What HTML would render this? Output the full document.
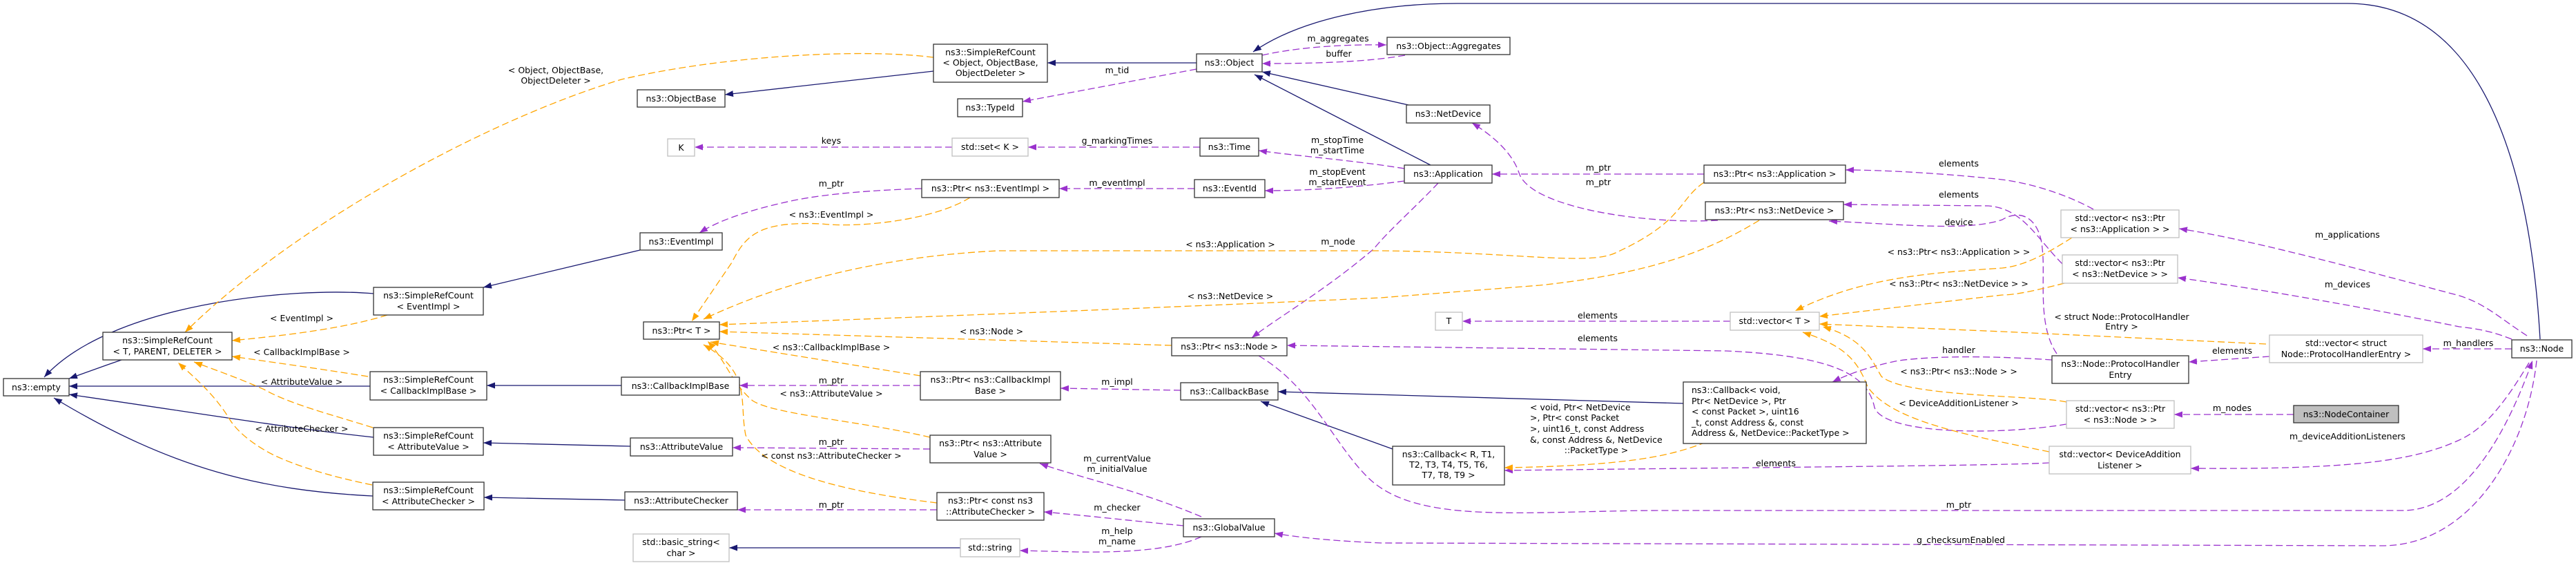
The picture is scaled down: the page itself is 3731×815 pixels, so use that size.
<!DOCTYPE html>
<html><head><meta charset="utf-8"><style>
html,body{margin:0;padding:0;background:#fff;}
svg{display:block;}
text{font-family:"DejaVu Sans","Liberation Sans",sans-serif;font-size:12.5px;fill:#000;}
.n{fill:#fff;stroke:#333;stroke-width:1.3;}
.g{fill:#fff;stroke:#bfbfbf;stroke-width:1.3;}
.nv{fill:none;stroke:#191970;stroke-width:1.3;marker-end:url(#mn);}
.pp{fill:none;stroke:#9a32cd;stroke-width:1.3;stroke-dasharray:10,5;marker-end:url(#mp);}
.or{fill:none;stroke:#ffa500;stroke-width:1.3;stroke-dasharray:10,5;marker-end:url(#mo);}
</style></head><body>
<svg width="3731" height="815" viewBox="0 0 3731 815" xmlns="http://www.w3.org/2000/svg">
<defs>
<marker id="mn" markerUnits="userSpaceOnUse" markerWidth="12" markerHeight="9" refX="12" refY="4.5" orient="auto"><path d="M0,0 L12,4.5 L0,9 z" fill="#191970"/></marker>
<marker id="mp" markerUnits="userSpaceOnUse" markerWidth="12" markerHeight="9" refX="12" refY="4.5" orient="auto"><path d="M0,0 L12,4.5 L0,9 z" fill="#9a32cd"/></marker>
<marker id="mo" markerUnits="userSpaceOnUse" markerWidth="12" markerHeight="9" refX="12" refY="4.5" orient="auto"><path d="M0,0 L12,4.5 L0,9 z" fill="#ffa500"/></marker>
</defs>

<!-- navy edges -->
<path class="nv" d="M176 521 C150 530 122 540 100 548"/>
<path class="nv" d="M541 425 C420 415 160 440 64 546"/>
<path class="nv" d="M536 559 L100 559"/>
<path class="nv" d="M541 633 C420 620 300 600 100 571"/>
<path class="nv" d="M540 718 C380 710 250 680 78 576"/>
<path class="nv" d="M927 362 L700 416"/>
<path class="nv" d="M900 558 L705 558"/>
<path class="nv" d="M913 646 L700 641"/>
<path class="nv" d="M905 724 L701 720"/>
<path class="nv" d="M1352 103 L1050 137"/>
<path class="nv" d="M1733 91 L1517 91"/>
<path class="nv" d="M1391 793 L1056 793"/>
<path class="nv" d="M2040 152 L1828 104"/>
<path class="nv" d="M2072 239 L1817 108"/>
<path class="nv" d="M3679 491 C3665 250 3600 5 3400 5 L2110 5 C1990 5 1880 30 1815 75"/>
<path class="nv" d="M2438 584 L1851 567"/>
<path class="nv" d="M2017 650 L1826 581"/>

<!-- purple edges -->
<path class="pp" d="M1828 80 C1880 68 1950 64 2008 65"/>
<path class="pp" d="M2035 80 C1980 90 1900 92 1828 92"/>
<path class="pp" d="M1733 100 L1481 147"/>
<path class="pp" d="M1379 213 L1006 213"/>
<path class="pp" d="M1738 213 L1489 213"/>
<path class="pp" d="M2034 244 C1960 232 1880 226 1823 218"/>
<path class="pp" d="M2034 262 C1960 272 1890 276 1832 276"/>
<path class="pp" d="M1730 273 L1534 273"/>
<path class="pp" d="M1335 273 C1270 275 1200 280 1150 290 C1080 305 1040 320 1013 337"/>
<path class="pp" d="M2083 265 C2050 300 2010 335 1990 360 C1920 420 1850 460 1813 489"/>
<path class="pp" d="M2468 252 L2161 252"/>
<path class="pp" d="M2488 319 C2380 325 2215 300 2200 250 C2190 220 2160 195 2132 178"/>
<path class="pp" d="M3032 303 C3000 285 2940 262 2880 258 C2800 250 2720 246 2673 246"/>
<path class="pp" d="M2987 382 C2950 345 2930 302 2880 298 L2670 296"/>
<path class="pp" d="M2979 512 C2950 470 2963 400 2958 360 C2955 320 2930 300 2900 318 C2850 335 2760 325 2649 320"/>
<path class="pp" d="M2506 465 L2118 465"/>
<path class="pp" d="M2993 614 C2900 630 2730 630 2715 590 C2705 540 2650 515 2500 508 L1864 500"/>
<path class="pp" d="M2972 521 C2900 516 2810 514 2750 522 C2710 530 2680 540 2654 553"/>
<path class="pp" d="M3287 516 L3170 524"/>
<path class="pp" d="M3638 505 L3509 505"/>
<path class="pp" d="M3660 486 C3620 460 3600 440 3562 428 C3400 385 3250 345 3156 331"/>
<path class="pp" d="M3638 491 C3610 480 3590 476 3562 473 C3400 440 3250 415 3154 402"/>
<path class="pp" d="M3322 600 L3149 600"/>
<path class="pp" d="M3663 525 C3630 580 3600 620 3562 637 C3500 665 3420 680 3173 678"/>
<path class="pp" d="M1823 515 C1900 560 1930 640 1980 690 C2050 760 2200 740 2400 739 L3480 739 C3580 739 3640 600 3668 522"/>
<path class="pp" d="M3674 522 C3660 650 3580 790 3450 790 L2000 786 C1930 783 1880 778 1846 772"/>
<path class="pp" d="M2968 670 C2900 674 2600 676 2179 681"/>
<path class="pp" d="M1710 565 L1536 562"/>
<path class="pp" d="M1333 558 L1071 558"/>
<path class="pp" d="M1347 650 L1061 648"/>
<path class="pp" d="M1740 748 C1650 710 1560 690 1506 671"/>
<path class="pp" d="M1357 738 L1068 738"/>
<path class="pp" d="M1714 761 C1650 755 1580 747 1512 741"/>
<path class="pp" d="M1740 777 C1700 795 1640 800 1560 799 L1477 797"/>

<!-- orange edges -->
<path class="or" d="M561 456 C500 475 420 485 336 493"/>
<path class="or" d="M533 545 C470 535 400 525 336 516"/>
<path class="or" d="M540 619 C480 600 420 585 383 564 C340 545 310 535 281 524"/>
<path class="or" d="M539 702 C480 690 430 675 395 658 C360 640 340 620 332 606 C310 570 280 545 258 525"/>
<path class="or" d="M1352 83 C1250 70 1050 80 900 115 C700 175 420 330 268 481"/>
<path class="or" d="M1405 286 C1350 320 1240 330 1190 324 C1100 320 1080 340 1060 380 L1002 465"/>
<path class="or" d="M2468 264 C2430 290 2440 320 2340 366 C2300 385 2200 365 2000 363 L1446 363 C1300 370 1150 400 1019 462"/>
<path class="or" d="M2548 319 C2480 360 2400 395 2230 413 L2000 431 C1700 445 1300 460 1042 470"/>
<path class="or" d="M1697 500 L1042 480"/>
<path class="or" d="M1333 544 L1029 495"/>
<path class="or" d="M1347 633 C1250 610 1120 600 1090 580 C1060 555 1050 520 1025 494"/>
<path class="or" d="M1357 728 C1250 715 1110 690 1080 630 C1070 580 1090 540 1019 499"/>
<path class="or" d="M3001 344 C2960 370 2930 385 2900 388 C2800 395 2700 400 2600 450"/>
<path class="or" d="M2990 410 C2950 420 2920 427 2900 427 L2635 458"/>
<path class="or" d="M3282 498 L2900 480 L2635 469"/>
<path class="or" d="M2993 582 C2950 572 2760 575 2725 545 C2710 520 2700 490 2640 473"/>
<path class="or" d="M2968 654 C2850 630 2740 610 2705 560 C2690 520 2670 500 2611 481"/>
<path class="or" d="M2471 640 C2420 660 2360 674 2179 677"/>

<!-- nodes -->
<rect class="n" x="5" y="548" width="95" height="25"/><text x="52.5" y="565" text-anchor="middle">ns3::empty</text>
<rect class="n" x="149" y="481" width="187" height="40"/><text x="242.5" y="497" text-anchor="middle">ns3::SimpleRefCount</text><text x="242.5" y="513" text-anchor="middle">&lt; T, PARENT, DELETER &gt;</text>
<rect class="n" x="541" y="416" width="159" height="40"/><text x="620.5" y="432" text-anchor="middle">ns3::SimpleRefCount</text><text x="620.5" y="448" text-anchor="middle">&lt; EventImpl &gt;</text>
<rect class="n" x="536" y="538" width="169" height="41"/><text x="620.5" y="554" text-anchor="middle">ns3::SimpleRefCount</text><text x="620.5" y="570" text-anchor="middle">&lt; CallbackImplBase &gt;</text>
<rect class="n" x="541" y="619" width="159" height="40"/><text x="620.5" y="635" text-anchor="middle">ns3::SimpleRefCount</text><text x="620.5" y="651" text-anchor="middle">&lt; AttributeValue &gt;</text>
<rect class="n" x="540" y="698" width="161" height="40"/><text x="620.5" y="714" text-anchor="middle">ns3::SimpleRefCount</text><text x="620.5" y="730" text-anchor="middle">&lt; AttributeChecker &gt;</text>
<rect class="n" x="923" y="130" width="127" height="25"/><text x="986.5" y="147" text-anchor="middle">ns3::ObjectBase</text>
<rect class="g" x="967" y="201" width="39" height="25"/><text x="986.5" y="218" text-anchor="middle">K</text>
<rect class="n" x="927" y="337" width="119" height="25"/><text x="986.5" y="354" text-anchor="middle">ns3::EventImpl</text>
<rect class="n" x="932" y="466" width="110" height="25"/><text x="987" y="483" text-anchor="middle">ns3::Ptr&lt; T &gt;</text>
<rect class="n" x="900" y="546" width="171" height="26"/><text x="985.5" y="563" text-anchor="middle">ns3::CallbackImplBase</text>
<rect class="n" x="913" y="634" width="148" height="26"/><text x="987" y="651" text-anchor="middle">ns3::AttributeValue</text>
<rect class="n" x="905" y="712" width="163" height="26"/><text x="986.5" y="729" text-anchor="middle">ns3::AttributeChecker</text>
<rect class="g" x="917" y="773" width="139" height="40"/><text x="986.5" y="789" text-anchor="middle">std::basic_string&lt;</text><text x="986.5" y="805" text-anchor="middle">char &gt;</text>
<rect class="n" x="1352" y="64" width="165" height="55"/><text x="1434.5" y="80" text-anchor="middle">ns3::SimpleRefCount</text><text x="1434.5" y="95" text-anchor="middle">&lt; Object, ObjectBase,</text><text x="1434.5" y="110" text-anchor="middle">ObjectDeleter &gt;</text>
<rect class="n" x="1733" y="78" width="95" height="26"/><text x="1780.5" y="95" text-anchor="middle">ns3::Object</text>
<rect class="n" x="1387" y="143" width="94" height="26"/><text x="1434" y="160" text-anchor="middle">ns3::TypeId</text>
<rect class="g" x="1379" y="200" width="110" height="26"/><text x="1434" y="217" text-anchor="middle">std::set&lt; K &gt;</text>
<rect class="n" x="1738" y="200" width="85" height="26"/><text x="1780.5" y="217" text-anchor="middle">ns3::Time</text>
<rect class="n" x="1335" y="260" width="199" height="26"/><text x="1434.5" y="277" text-anchor="middle">ns3::Ptr&lt; ns3::EventImpl &gt;</text>
<rect class="n" x="1730" y="260" width="102" height="26"/><text x="1781" y="277" text-anchor="middle">ns3::EventId</text>
<rect class="n" x="1697" y="489" width="167" height="26"/><text x="1780.5" y="506" text-anchor="middle">ns3::Ptr&lt; ns3::Node &gt;</text>
<rect class="n" x="1333" y="538" width="203" height="41"/><text x="1434.5" y="554" text-anchor="middle">ns3::Ptr&lt; ns3::CallbackImpl</text><text x="1434.5" y="570" text-anchor="middle">Base &gt;</text>
<rect class="n" x="1710" y="554" width="141" height="25"/><text x="1780.5" y="571" text-anchor="middle">ns3::CallbackBase</text>
<rect class="n" x="1347" y="630" width="175" height="40"/><text x="1434.5" y="646" text-anchor="middle">ns3::Ptr&lt; ns3::Attribute</text><text x="1434.5" y="662" text-anchor="middle">Value &gt;</text>
<rect class="n" x="1357" y="713" width="155" height="40"/><text x="1434.5" y="729" text-anchor="middle">ns3::Ptr&lt; const ns3</text><text x="1434.5" y="745" text-anchor="middle">::AttributeChecker &gt;</text>
<rect class="n" x="1714" y="751" width="132" height="26"/><text x="1780" y="768" text-anchor="middle">ns3::GlobalValue</text>
<rect class="g" x="1391" y="780" width="86" height="26"/><text x="1434" y="797" text-anchor="middle">std::string</text>
<rect class="n" x="2009" y="54" width="178" height="25"/><text x="2098" y="71" text-anchor="middle">ns3::Object::Aggregates</text>
<rect class="n" x="2037" y="152" width="121" height="26"/><text x="2097.5" y="169" text-anchor="middle">ns3::NetDevice</text>
<rect class="n" x="2034" y="239" width="127" height="26"/><text x="2097.5" y="256" text-anchor="middle">ns3::Application</text>
<rect class="n" x="2468" y="239" width="205" height="26"/><text x="2570.5" y="256" text-anchor="middle">ns3::Ptr&lt; ns3::Application &gt;</text>
<rect class="n" x="2470" y="292" width="200" height="26"/><text x="2570" y="309" text-anchor="middle">ns3::Ptr&lt; ns3::NetDevice &gt;</text>
<rect class="g" x="2079" y="452" width="39" height="26"/><text x="2098.5" y="469" text-anchor="middle">T</text>
<rect class="g" x="2506" y="452" width="129" height="26"/><text x="2570.5" y="469" text-anchor="middle">std::vector&lt; T &gt;</text>
<rect class="n" x="2438" y="553" width="265" height="89"/>
<text x="2450" y="569">ns3::Callback&lt; void,</text><text x="2450" y="585"> Ptr&lt; NetDevice &gt;, Ptr</text><text x="2450" y="600">&lt; const Packet &gt;, uint16</text><text x="2450" y="616">_t, const Address &amp;, const</text><text x="2450" y="631"> Address &amp;, NetDevice::PacketType &gt;</text>
<rect class="n" x="2017" y="646" width="162" height="56"/><text x="2098" y="662" text-anchor="middle">ns3::Callback&lt; R, T1,</text><text x="2098" y="677" text-anchor="middle">T2, T3, T4, T5, T6,</text><text x="2098" y="692" text-anchor="middle">T7, T8, T9 &gt;</text>
<rect class="g" x="2985" y="304" width="171" height="40"/><text x="3070.5" y="320" text-anchor="middle">std::vector&lt; ns3::Ptr</text><text x="3070.5" y="336" text-anchor="middle">&lt; ns3::Application &gt; &gt;</text>
<rect class="g" x="2987" y="369" width="167" height="41"/><text x="3070.5" y="385" text-anchor="middle">std::vector&lt; ns3::Ptr</text><text x="3070.5" y="401" text-anchor="middle">&lt; ns3::NetDevice &gt; &gt;</text>
<rect class="g" x="3287" y="485" width="222" height="40"/><text x="3398" y="501" text-anchor="middle">std::vector&lt; struct</text><text x="3398" y="517" text-anchor="middle">Node::ProtocolHandlerEntry &gt;</text>
<rect class="n" x="3638" y="492" width="87" height="26"/><text x="3681.5" y="509" text-anchor="middle">ns3::Node</text>
<rect class="n" x="2972" y="515" width="198" height="40"/><text x="3071" y="531" text-anchor="middle">ns3::Node::ProtocolHandler</text><text x="3071" y="547" text-anchor="middle">Entry</text>
<rect class="g" x="2993" y="580" width="156" height="40"/><text x="3071" y="596" text-anchor="middle">std::vector&lt; ns3::Ptr</text><text x="3071" y="612" text-anchor="middle">&lt; ns3::Node &gt; &gt;</text>
<rect x="3322" y="587" width="152" height="25" fill="#bfbfbf" stroke="#333" stroke-width="1.3"/><text x="3398" y="604" text-anchor="middle">ns3::NodeContainer</text>
<rect class="g" x="2968" y="646" width="205" height="40"/><text x="3070.5" y="662" text-anchor="middle">std::vector&lt; DeviceAddition</text><text x="3070.5" y="678" text-anchor="middle">Listener &gt;</text>

<!-- labels -->
<text x="805" y="106" text-anchor="middle">&lt; Object, ObjectBase,</text><text x="805" y="121" text-anchor="middle">ObjectDeleter &gt;</text>
<text x="437" y="465" text-anchor="middle">&lt; EventImpl &gt;</text>
<text x="437" y="514" text-anchor="middle">&lt; CallbackImplBase &gt;</text>
<text x="437" y="557" text-anchor="middle">&lt; AttributeValue &gt;</text>
<text x="437" y="625" text-anchor="middle">&lt; AttributeChecker &gt;</text>
<text x="1938" y="60" text-anchor="middle">m_aggregates</text>
<text x="1939" y="82" text-anchor="middle">buffer</text>
<text x="1618" y="106" text-anchor="middle">m_tid</text>
<text x="1204" y="208" text-anchor="middle">keys</text>
<text x="1618" y="208" text-anchor="middle">g_markingTimes</text>
<text x="1937" y="207" text-anchor="middle">m_stopTime</text><text x="1937" y="222" text-anchor="middle">m_startTime</text>
<text x="1937" y="253" text-anchor="middle">m_stopEvent</text><text x="1937" y="268" text-anchor="middle">m_startEvent</text>
<text x="1204" y="270" text-anchor="middle">m_ptr</text>
<text x="1618" y="269" text-anchor="middle">m_eventImpl</text>
<text x="1204" y="315" text-anchor="middle">&lt; ns3::EventImpl &gt;</text>
<text x="1782" y="358" text-anchor="middle">&lt; ns3::Application &gt;</text>
<text x="1938" y="354" text-anchor="middle">m_node</text>
<text x="1782" y="433" text-anchor="middle">&lt; ns3::NetDevice &gt;</text>
<text x="1436" y="484" text-anchor="middle">&lt; ns3::Node &gt;</text>
<text x="1204" y="507" text-anchor="middle">&lt; ns3::CallbackImplBase &gt;</text>
<text x="1204" y="555" text-anchor="middle">m_ptr</text>
<text x="1204" y="574" text-anchor="middle">&lt; ns3::AttributeValue &gt;</text>
<text x="1618" y="557" text-anchor="middle">m_impl</text>
<text x="1204" y="644" text-anchor="middle">m_ptr</text>
<text x="1204" y="664" text-anchor="middle">&lt; const ns3::AttributeChecker &gt;</text>
<text x="1618" y="668" text-anchor="middle">m_currentValue</text><text x="1618" y="683" text-anchor="middle">m_initialValue</text>
<text x="1204" y="735" text-anchor="middle">m_ptr</text>
<text x="1618" y="739" text-anchor="middle">m_checker</text>
<text x="1618" y="773" text-anchor="middle">m_help</text><text x="1618" y="788" text-anchor="middle">m_name</text>
<text x="2315" y="247" text-anchor="middle">m_ptr</text><text x="2315" y="268" text-anchor="middle">m_ptr</text>
<text x="2837" y="241" text-anchor="middle">elements</text>
<text x="2837" y="286" text-anchor="middle">elements</text>
<text x="2837" y="326" text-anchor="middle">device</text>
<text x="2837" y="369" text-anchor="middle">&lt; ns3::Ptr&lt; ns3::Application &gt; &gt;</text>
<text x="2837" y="415" text-anchor="middle">&lt; ns3::Ptr&lt; ns3::NetDevice &gt; &gt;</text>
<text x="2314" y="461" text-anchor="middle">elements</text>
<text x="2314" y="494" text-anchor="middle">elements</text>
<text x="2837" y="511" text-anchor="middle">handler</text>
<text x="2837" y="542" text-anchor="middle">&lt; ns3::Ptr&lt; ns3::Node &gt; &gt;</text>
<text x="2837" y="588" text-anchor="middle">&lt; DeviceAdditionListener &gt;</text>
<text x="2216" y="594">&lt; void, Ptr&lt; NetDevice</text>
<text x="2216" y="609">&gt;, Ptr&lt; const Packet</text>
<text x="2216" y="625">&gt;, uint16_t, const Address</text>
<text x="2216" y="641">&amp;, const Address &amp;, NetDevice</text>
<text x="2312" y="656" text-anchor="middle">::PacketType &gt;</text>
<text x="2572" y="675" text-anchor="middle">elements</text>
<text x="2837" y="735" text-anchor="middle">m_ptr</text>
<text x="2840" y="786" text-anchor="middle">g_checksumEnabled</text>
<text x="3400" y="344" text-anchor="middle">m_applications</text>
<text x="3400" y="416" text-anchor="middle">m_devices</text>
<text x="3073" y="463" text-anchor="middle">&lt; struct Node::ProtocolHandler</text><text x="3073" y="477" text-anchor="middle">Entry &gt;</text>
<text x="3575" y="501" text-anchor="middle">m_handlers</text>
<text x="3233" y="512" text-anchor="middle">elements</text>
<text x="3233" y="595" text-anchor="middle">m_nodes</text>
<text x="3400" y="636" text-anchor="middle">m_deviceAdditionListeners</text>
</svg>
</body></html>
